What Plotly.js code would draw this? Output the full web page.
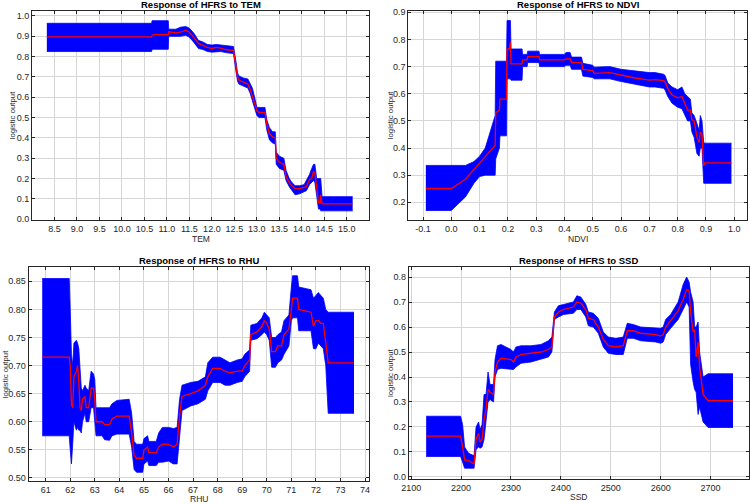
<!DOCTYPE html>
<html>
<head>
<meta charset="utf-8">
<script src="https://cdn.plot.ly/plotly-3.0.1.min.js"></script>
<style>
  html, body { margin: 0; padding: 0; background: #ffffff; }
  #chart { width: 750px; height: 504px; }
</style>
</head>
<body>
<div id="chart"></div>
<script>
// ---- TEM response: mean curve with lower / upper envelope ----
const temX    = [8.33, 10.66, 10.67, 10.72, 11.03, 11.04, 11.2, 11.3, 11.42, 11.5, 11.6, 11.7, 11.8, 11.9, 12.0, 12.1, 12.2, 12.3, 12.48, 12.54, 12.57, 12.6, 12.7, 12.8, 12.85, 12.9, 12.95, 13.0, 13.05, 13.18, 13.22, 13.28, 13.35, 13.41, 13.43, 13.5, 13.6, 13.65, 13.72, 13.78, 13.85, 13.95, 14.05, 14.1, 14.17, 14.22, 14.26, 14.29, 14.33, 14.37, 14.41, 14.42, 14.45, 15.13];
const temMean = [0.897, 0.897, 0.905, 0.908, 0.908, 0.922, 0.917, 0.92, 0.93, 0.92, 0.895, 0.865, 0.855, 0.845, 0.84, 0.845, 0.842, 0.835, 0.83, 0.75, 0.70, 0.685, 0.675, 0.665, 0.64, 0.61, 0.57, 0.535, 0.525, 0.525, 0.47, 0.42, 0.405, 0.40, 0.30, 0.28, 0.27, 0.21, 0.18, 0.165, 0.15, 0.15, 0.155, 0.16, 0.195, 0.20, 0.235, 0.225, 0.16, 0.08, 0.08, 0.12, 0.075, 0.075];
const temHi   = [0.964, 0.964, 0.977, 0.977, 0.977, 0.935, 0.935, 0.945, 0.948, 0.94, 0.915, 0.88, 0.872, 0.86, 0.857, 0.86, 0.857, 0.852, 0.85, 0.77, 0.72, 0.705, 0.695, 0.69, 0.67, 0.645, 0.60, 0.55, 0.55, 0.55, 0.49, 0.45, 0.43, 0.43, 0.33, 0.31, 0.30, 0.24, 0.20, 0.18, 0.165, 0.165, 0.17, 0.19, 0.22, 0.25, 0.27, 0.27, 0.20, 0.20, 0.20, 0.20, 0.111, 0.111];
const temLo   = [0.825, 0.825, 0.836, 0.836, 0.836, 0.90, 0.898, 0.90, 0.905, 0.895, 0.87, 0.84, 0.835, 0.825, 0.822, 0.825, 0.825, 0.82, 0.815, 0.72, 0.68, 0.665, 0.655, 0.645, 0.62, 0.58, 0.54, 0.51, 0.50, 0.50, 0.44, 0.39, 0.375, 0.37, 0.27, 0.25, 0.24, 0.19, 0.16, 0.14, 0.12, 0.125, 0.135, 0.14, 0.17, 0.18, 0.19, 0.18, 0.12, 0.05, 0.05, 0.041, 0.041, 0.041];

// ---- NDVI response ----
const ndviX    = [-0.09, 0.00, 0.05, 0.08, 0.10, 0.12, 0.155, 0.157, 0.170, 0.172, 0.195, 0.197, 0.205, 0.209, 0.211, 0.250, 0.252, 0.268, 0.270, 0.310, 0.312, 0.400, 0.405, 0.420, 0.425, 0.460, 0.465, 0.500, 0.505, 0.560, 0.600, 0.650, 0.700, 0.720, 0.750, 0.755, 0.765, 0.780, 0.800, 0.815, 0.825, 0.835, 0.845, 0.850, 0.858, 0.868, 0.876, 0.880, 0.886, 0.892, 0.896, 0.990];
const ndviMean = [0.251, 0.251, 0.285, 0.320, 0.345, 0.370, 0.410, 0.530, 0.540, 0.580, 0.580, 0.765, 0.765, 0.790, 0.710, 0.710, 0.725, 0.725, 0.737, 0.737, 0.725, 0.725, 0.728, 0.728, 0.715, 0.715, 0.690, 0.685, 0.675, 0.678, 0.668, 0.658, 0.650, 0.652, 0.648, 0.645, 0.620, 0.595, 0.585, 0.590, 0.565, 0.540, 0.540, 0.505, 0.500, 0.440, 0.420, 0.460, 0.450, 0.335, 0.345, 0.345];
const ndviHi   = [0.336, 0.336, 0.336, 0.350, 0.370, 0.400, 0.520, 0.720, 0.720, 0.720, 0.720, 0.870, 0.870, 0.870, 0.765, 0.765, 0.745, 0.745, 0.757, 0.757, 0.745, 0.745, 0.752, 0.752, 0.735, 0.735, 0.712, 0.705, 0.698, 0.700, 0.690, 0.683, 0.678, 0.678, 0.672, 0.668, 0.640, 0.625, 0.615, 0.625, 0.600, 0.590, 0.580, 0.530, 0.520, 0.490, 0.465, 0.520, 0.500, 0.420, 0.418, 0.418];
const ndviLo   = [0.170, 0.170, 0.220, 0.270, 0.295, 0.300, 0.300, 0.360, 0.400, 0.445, 0.445, 0.655, 0.655, 0.655, 0.650, 0.650, 0.700, 0.700, 0.715, 0.715, 0.700, 0.700, 0.705, 0.705, 0.690, 0.690, 0.665, 0.660, 0.655, 0.655, 0.645, 0.635, 0.625, 0.625, 0.620, 0.615, 0.590, 0.565, 0.550, 0.545, 0.520, 0.500, 0.500, 0.460, 0.440, 0.380, 0.370, 0.400, 0.400, 0.270, 0.270, 0.270];

// ---- RHU response ----
const rhuX    = [60.86, 61.96, 62.0, 62.05, 62.1, 62.15, 62.25, 62.3, 62.35, 62.4, 62.45, 62.5, 62.6, 62.65, 62.75, 62.85, 62.95, 63.0, 63.05, 63.3, 63.4, 63.6, 63.7, 63.9, 64.4, 64.5, 64.6, 64.7, 64.95, 65.0, 65.15, 65.2, 65.5, 65.6, 65.75, 66.0, 66.2, 66.35, 66.45, 66.55, 66.9, 67.2, 67.5, 67.6, 67.8, 68.1, 68.3, 68.5, 68.8, 69.0, 69.1, 69.3, 69.35, 69.6, 69.8, 69.9, 70.0, 70.1, 70.2, 70.35, 70.45, 70.6, 70.7, 70.9, 71.0, 71.05, 71.25, 71.3, 71.8, 71.9, 72.0, 72.1, 72.2, 72.3, 72.4, 72.5, 73.55];
const rhuMean = [0.715, 0.715, 0.70, 0.63, 0.625, 0.68, 0.69, 0.70, 0.67, 0.625, 0.62, 0.64, 0.645, 0.625, 0.625, 0.66, 0.66, 0.64, 0.60, 0.60, 0.595, 0.595, 0.605, 0.61, 0.61, 0.58, 0.54, 0.535, 0.535, 0.55, 0.555, 0.545, 0.545, 0.555, 0.56, 0.56, 0.555, 0.56, 0.61, 0.645, 0.65, 0.655, 0.665, 0.68, 0.695, 0.695, 0.69, 0.687, 0.69, 0.69, 0.70, 0.71, 0.755, 0.76, 0.77, 0.78, 0.775, 0.765, 0.725, 0.725, 0.735, 0.735, 0.755, 0.765, 0.80, 0.82, 0.82, 0.80, 0.795, 0.77, 0.78, 0.78, 0.775, 0.775, 0.74, 0.705, 0.705];
const rhuHi   = [0.855, 0.855, 0.80, 0.72, 0.70, 0.74, 0.745, 0.74, 0.73, 0.69, 0.66, 0.655, 0.665, 0.66, 0.655, 0.69, 0.685, 0.675, 0.625, 0.625, 0.625, 0.625, 0.632, 0.638, 0.64, 0.615, 0.565, 0.56, 0.56, 0.57, 0.575, 0.565, 0.565, 0.58, 0.59, 0.59, 0.588, 0.59, 0.64, 0.665, 0.67, 0.672, 0.68, 0.705, 0.715, 0.715, 0.71, 0.705, 0.71, 0.712, 0.72, 0.728, 0.772, 0.775, 0.785, 0.795, 0.79, 0.785, 0.75, 0.75, 0.755, 0.76, 0.78, 0.79, 0.84, 0.86, 0.86, 0.84, 0.835, 0.82, 0.825, 0.83, 0.825, 0.82, 0.80, 0.795, 0.795];
const rhuLo   = [0.575, 0.575, 0.55, 0.525, 0.56, 0.60, 0.585, 0.59, 0.585, 0.585, 0.58, 0.60, 0.615, 0.60, 0.60, 0.625, 0.625, 0.60, 0.575, 0.575, 0.568, 0.567, 0.575, 0.578, 0.578, 0.555, 0.515, 0.51, 0.51, 0.525, 0.53, 0.522, 0.522, 0.528, 0.528, 0.53, 0.525, 0.525, 0.58, 0.62, 0.628, 0.632, 0.64, 0.655, 0.67, 0.67, 0.665, 0.665, 0.67, 0.672, 0.68, 0.69, 0.745, 0.748, 0.755, 0.76, 0.755, 0.745, 0.697, 0.697, 0.705, 0.71, 0.72, 0.735, 0.78, 0.785, 0.785, 0.762, 0.762, 0.73, 0.73, 0.74, 0.735, 0.73, 0.70, 0.615, 0.615];

// ---- SSD response ----
const ssdX    = [2130, 2199, 2203, 2207, 2215, 2226, 2230, 2235, 2238, 2242, 2246, 2250, 2254, 2258, 2265, 2268, 2273, 2280, 2300, 2305, 2310, 2320, 2340, 2360, 2375, 2382, 2387, 2395, 2405, 2425, 2432, 2440, 2450, 2455, 2465, 2475, 2485, 2495, 2510, 2525, 2533, 2545, 2560, 2590, 2600, 2605, 2610, 2620, 2635, 2645, 2652, 2657, 2660, 2665, 2668, 2671, 2675, 2678, 2685, 2695, 2745];
const ssdMean = [0.163, 0.163, 0.12, 0.068, 0.065, 0.053, 0.15, 0.175, 0.14, 0.15, 0.23, 0.27, 0.35, 0.34, 0.33, 0.42, 0.46, 0.475, 0.47, 0.46, 0.48, 0.49, 0.495, 0.50, 0.51, 0.52, 0.64, 0.66, 0.67, 0.68, 0.70, 0.695, 0.67, 0.635, 0.63, 0.60, 0.55, 0.525, 0.52, 0.525, 0.585, 0.585, 0.575, 0.57, 0.565, 0.57, 0.60, 0.625, 0.665, 0.71, 0.75, 0.745, 0.66, 0.58, 0.59, 0.48, 0.54, 0.44, 0.33, 0.305, 0.305];
const ssdHi   = [0.243, 0.243, 0.21, 0.12, 0.095, 0.085, 0.20, 0.22, 0.19, 0.21, 0.33, 0.33, 0.42, 0.37, 0.37, 0.47, 0.525, 0.53, 0.51, 0.50, 0.52, 0.525, 0.525, 0.53, 0.545, 0.56, 0.66, 0.685, 0.69, 0.70, 0.725, 0.72, 0.69, 0.66, 0.655, 0.635, 0.58, 0.56, 0.555, 0.56, 0.615, 0.61, 0.60, 0.595, 0.595, 0.60, 0.63, 0.65, 0.70, 0.77, 0.80, 0.78, 0.74, 0.70, 0.60, 0.60, 0.62, 0.50, 0.40, 0.413, 0.413];
const ssdLo   = [0.082, 0.082, 0.06, 0.035, 0.035, 0.035, 0.11, 0.12, 0.115, 0.12, 0.15, 0.22, 0.30, 0.31, 0.30, 0.40, 0.43, 0.435, 0.43, 0.43, 0.44, 0.455, 0.46, 0.47, 0.48, 0.50, 0.63, 0.64, 0.65, 0.655, 0.67, 0.67, 0.64, 0.605, 0.60, 0.575, 0.52, 0.495, 0.49, 0.49, 0.555, 0.555, 0.545, 0.54, 0.535, 0.54, 0.57, 0.595, 0.63, 0.67, 0.70, 0.68, 0.45, 0.38, 0.35, 0.34, 0.25, 0.28, 0.22, 0.198, 0.198];

// ---- panel titles, axis names and tick labels ----
const panelTitles = ['Response of HFRS to TEM', 'Response of HFRS to NDVI', 'Response of HFRS to RHU', 'Response of HFRS to SSD'];
const xNames = ['TEM', 'NDVI', 'RHU', 'SSD'];
const yName = 'logistic output';

const temXTicks  = [8.5, 9.0, 9.5, 10.0, 10.5, 11.0, 11.5, 12.0, 12.5, 13.0, 13.5, 14.0, 14.5, 15.0];
const temXLabels = ['8.5', '9.0', '9.5', '10.0', '10.5', '11.0', '11.5', '12.0', '12.5', '13.0', '13.5', '14.0', '14.5', '15.0'];
const temYTicks  = [0.0, 0.1, 0.2, 0.3, 0.4, 0.5, 0.6, 0.7, 0.8, 0.9, 1.0];
const temYLabels = ['0.0', '0.1', '0.2', '0.3', '0.4', '0.5', '0.6', '0.7', '0.8', '0.9', '1.0'];

const ndviXTicks  = [-0.1, 0.0, 0.1, 0.2, 0.3, 0.4, 0.5, 0.6, 0.7, 0.8, 0.9, 1.0];
const ndviXLabels = ['-0.1', '0.0', '0.1', '0.2', '0.3', '0.4', '0.5', '0.6', '0.7', '0.8', '0.9', '1.0'];
const ndviYTicks  = [0.2, 0.3, 0.4, 0.5, 0.6, 0.7, 0.8, 0.9];
const ndviYLabels = ['0.2', '0.3', '0.4', '0.5', '0.6', '0.7', '0.8', '0.9'];

const rhuXTicks  = [61, 62, 63, 64, 65, 66, 67, 68, 69, 70, 71, 72, 73, 74];
const rhuXLabels = ['61', '62', '63', '64', '65', '66', '67', '68', '69', '70', '71', '72', '73', '74'];
const rhuYTicks  = [0.50, 0.55, 0.60, 0.65, 0.70, 0.75, 0.80, 0.85];
const rhuYLabels = ['0.50', '0.55', '0.60', '0.65', '0.70', '0.75', '0.80', '0.85'];

const ssdXTicks  = [2100, 2200, 2300, 2400, 2500, 2600, 2700];
const ssdXLabels = ['2100', '2200', '2300', '2400', '2500', '2600', '2700'];
const ssdYTicks  = [0.0, 0.1, 0.2, 0.3, 0.4, 0.5, 0.6, 0.7, 0.8];
const ssdYLabels = ['0.0', '0.1', '0.2', '0.3', '0.4', '0.5', '0.6', '0.7', '0.8'];

// ---- figure geometry (pixels of a 750 x 504 canvas) ----
const W = 750, H = 504;
const boxes = [
  { l: 32,    r: 369.3, t: 10.7,  b: 220,   xr: [8.0, 15.5],     yr: [-0.004, 1.026] },
  { l: 408.3, r: 747,   t: 10.7,  b: 219.7, xr: [-0.152, 1.045], yr: [0.136, 0.906] },
  { l: 28.7,  r: 369,   t: 267.3, b: 481.3, xr: [60.31, 74.16],  yr: [0.494, 0.875] },
  { l: 408.7, r: 748.5, t: 267.3, b: 478.7, xr: [2095, 2776],    yr: [-0.007, 0.839] }
];
const px = v => v / W;
const py = v => 1 - v / H;

const BAND = '#0000ff';
const MEAN = '#ff0000';
const INK = '#262626';
const FONT = 'Liberation Sans, Arial, sans-serif';

const series = [
  { x: temX,  m: temMean,  hi: temHi,  lo: temLo,  xt: temXTicks,  xl: temXLabels,  yt: temYTicks,  yl: temYLabels },
  { x: ndviX, m: ndviMean, hi: ndviHi, lo: ndviLo, xt: ndviXTicks, xl: ndviXLabels, yt: ndviYTicks, yl: ndviYLabels },
  { x: rhuX,  m: rhuMean,  hi: rhuHi,  lo: rhuLo,  xt: rhuXTicks,  xl: rhuXLabels,  yt: rhuYTicks,  yl: rhuYLabels },
  { x: ssdX,  m: ssdMean,  hi: ssdHi,  lo: ssdLo,  xt: ssdXTicks,  xl: ssdXLabels,  yt: ssdYTicks,  yl: ssdYLabels }
];

const traces = [];
const layout = {
  width: W, height: H,
  margin: { l: 0, r: 0, t: 0, b: 0 },
  paper_bgcolor: '#ffffff',
  plot_bgcolor: '#ffffff',
  showlegend: false,
  font: { family: FONT, size: 9, color: INK },
  annotations: []
};

series.forEach((s, i) => {
  const n = i + 1;
  const xa = n === 1 ? 'x' : 'x' + n;
  const ya = n === 1 ? 'y' : 'y' + n;
  // envelope: lower edge first, upper edge filled down to it
  traces.push({ type: 'scatter', mode: 'lines', x: s.x, y: s.lo, xaxis: xa, yaxis: ya,
    line: { color: BAND, width: 0.8 }, hoverinfo: 'skip' });
  traces.push({ type: 'scatter', mode: 'lines', x: s.x, y: s.hi, xaxis: xa, yaxis: ya,
    fill: 'tonexty', fillcolor: BAND, line: { color: BAND, width: 0.8 }, hoverinfo: 'skip' });
  // mean response
  traces.push({ type: 'scatter', mode: 'lines', x: s.x, y: s.m, xaxis: xa, yaxis: ya,
    line: { color: MEAN, width: 1.3 } });

  const b = boxes[i];
  const common = {
    showline: true, linecolor: INK, linewidth: 1, mirror: 'ticks',
    ticks: 'inside', ticklen: 3, tickcolor: INK, tickwidth: 1,
    showgrid: true, gridcolor: '#d6d6d6', gridwidth: 1,
    zeroline: false, tickfont: { family: FONT, size: 9, color: INK },
    tickmode: 'array', fixedrange: true
  };
  layout['xaxis' + (n === 1 ? '' : n)] = Object.assign({}, common, {
    domain: [px(b.l), px(b.r)], range: b.xr, anchor: ya,
    tickvals: s.xt, ticktext: s.xl
  });
  layout['yaxis' + (n === 1 ? '' : n)] = Object.assign({}, common, {
    domain: [py(b.b), py(b.t)], range: b.yr, anchor: xa,
    tickvals: s.yt, ticktext: s.yl
  });
});

// panel titles and axis names
const titleY = [5, 5, 260, 260];
const xNameY = [239, 239, 499, 497];
const yNameX = [12, 390, 5, 390];
boxes.forEach((b, i) => {
  const cx = (b.l + b.r) / 2;
  const cy = (b.t + b.b) / 2;
  layout.annotations.push({
    xref: 'paper', yref: 'paper', x: px(cx), y: py(titleY[i]), xanchor: 'center', yanchor: 'middle',
    text: '<b>' + panelTitles[i] + '</b>', showarrow: false, font: { family: FONT, size: 9.5, color: '#000000' }
  });
  layout.annotations.push({
    xref: 'paper', yref: 'paper', x: px(cx), y: py(xNameY[i]), xanchor: 'center', yanchor: 'middle',
    text: xNames[i], showarrow: false, font: { family: FONT, size: 8.5, color: INK }
  });
  layout.annotations.push({
    xref: 'paper', yref: 'paper', x: px(yNameX[i]), y: py(cy), xanchor: 'center', yanchor: 'middle',
    text: yName, textangle: -90, showarrow: false, font: { family: FONT, size: 7.8, color: INK }
  });
});

Plotly.newPlot('chart', traces, layout, { displayModeBar: false, staticPlot: true });
</script>
</body>
</html>
